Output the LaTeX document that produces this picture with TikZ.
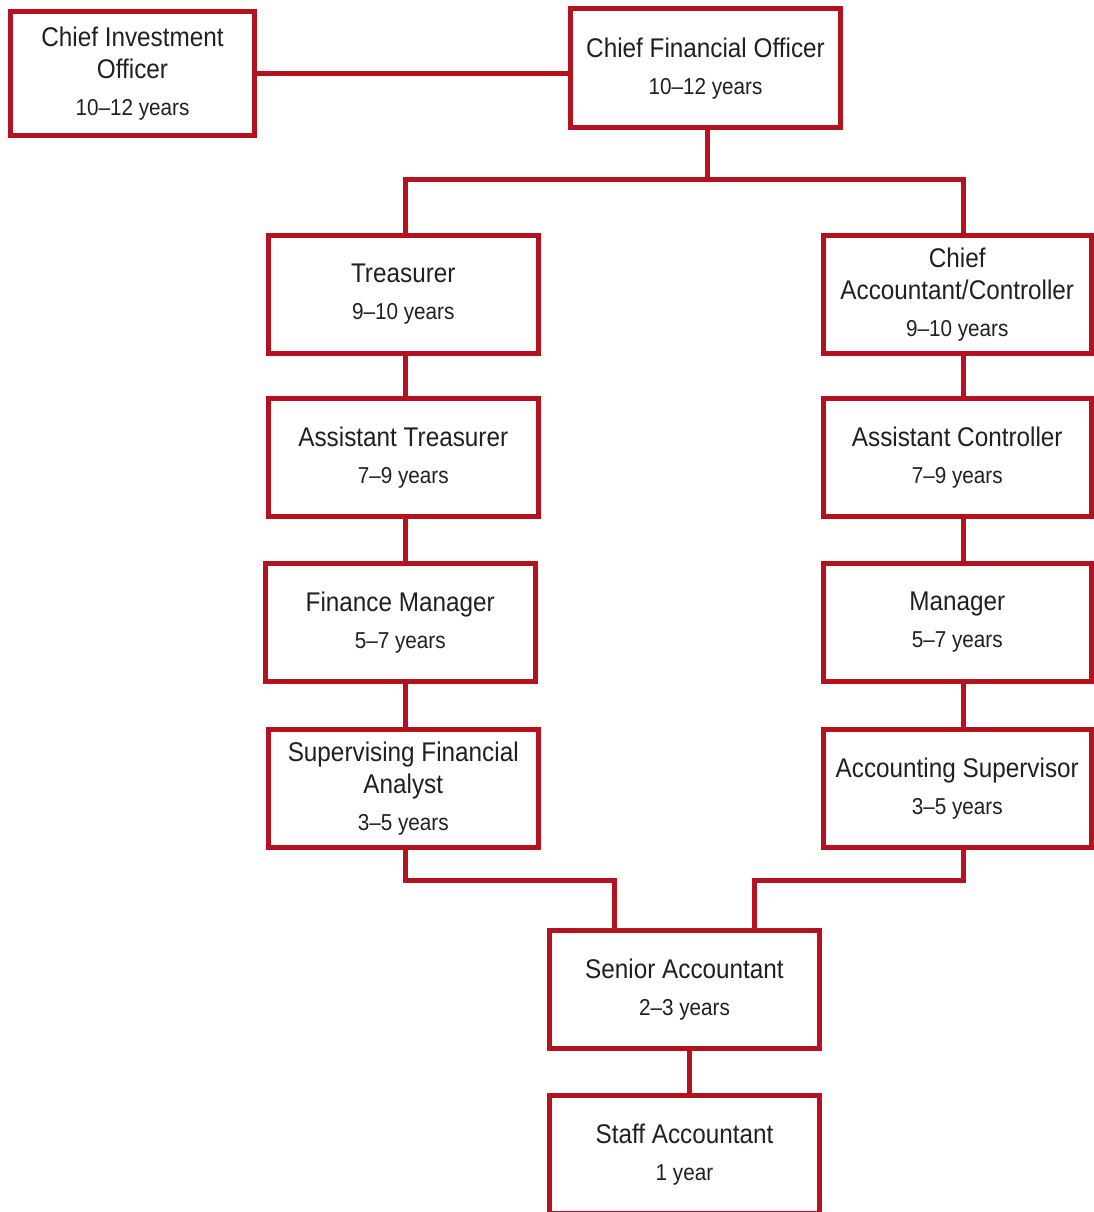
\documentclass[tikz,border=0pt]{standalone}
\usepackage{fontspec}
\setmainfont{Liberation Sans}[FakeStretch=0.9]
\definecolor{chartred}{RGB}{181,18,32}
\definecolor{ink}{RGB}{35,31,32}
% title on top, tenure below in a slightly smaller size
\newcommand\posttext[2]{#1\\[5pt]{\fontsize{23}{32}\selectfont #2}}

\begin{document}
\begin{tikzpicture}[x=1pt,y=-1pt,
  post/.style n args={2}{draw=chartred, line width=5pt, fill=white,
    inner sep=0pt, align=center, text=ink,
    font=\fontsize{27}{32}\selectfont,
    minimum width=#1, minimum height=#2},
  link/.style={draw=chartred, line width=5pt, line join=miter}]

\fill[white] (0,0) rectangle (1094,1212);
\useasboundingbox (0,0) rectangle (1094,1212);

% positions
\node[post={244}{124}]     (cio)    at (132.5,73.5)    {\posttext{Chief Investment\\Officer}{10--12 years}};
\node[post={270}{118.5}]   (cfo)    at (705.5,68.25)   {\posttext{Chief Financial Officer}{10--12 years}};
\node[post={270.5}{118.5}] (treas)  at (403.25,294.25) {\posttext{Treasurer}{9--10 years}};
\node[post={268.5}{118.5}] (ctrl)   at (957.25,294.25) {\posttext{Chief\\Accountant/Controller}{9--10 years}};
\node[post={270.5}{118.5}] (atreas) at (403.25,457.25) {\posttext{Assistant Treasurer}{7--9 years}};
\node[post={268.5}{118.5}] (actrl)  at (957.25,457.25) {\posttext{Assistant Controller}{7--9 years}};
\node[post={270.5}{118.5}] (finmgr) at (400.25,622.25) {\posttext{Finance Manager}{5--7 years}};
\node[post={268.5}{118.5}] (mgr)    at (957.25,622.25) {\posttext{Manager}{5--7 years}};
\node[post={270.5}{118.5}] (sfa)    at (403.25,788.25) {\posttext{Supervising Financial\\Analyst}{3--5 years}};
\node[post={268.5}{118.5}] (asup)   at (957.25,788.25) {\posttext{Accounting Supervisor}{3--5 years}};
\node[post={270}{118}]     (senior) at (684.5,989.5)   {\posttext{Senior Accountant}{2--3 years}};
\node[post={270}{118}]     (staff)  at (684.5,1154.5)  {\posttext{Staff Accountant}{1 year}};

% connector tracks
\coordinate (xl)  at (405,0);
\coordinate (xr)  at (963.5,0);
\coordinate (xm)  at (689.5,0);
\coordinate (bar) at (707,179.5);
\coordinate (jl)  at (614.5,880.5);
\coordinate (jr)  at (754.5,880.5);

\draw[link] (cio.east) -- (cio.east -| cfo.west);
\draw[link] (cfo.south -| bar) -- (bar);
\draw[link] (treas.north -| xl) |- (bar) -| (ctrl.north -| xr);

\draw[link] (treas.south -| xl)  -- (atreas.north -| xl);
\draw[link] (atreas.south -| xl) -- (finmgr.north -| xl);
\draw[link] (finmgr.south -| xl) -- (sfa.north -| xl);

\draw[link] (ctrl.south -| xr)  -- (actrl.north -| xr);
\draw[link] (actrl.south -| xr) -- (mgr.north -| xr);
\draw[link] (mgr.south -| xr)   -- (asup.north -| xr);

\draw[link] (sfa.south -| xl)  |- (jl) -- (senior.north -| jl);
\draw[link] (asup.south -| xr) |- (jr) -- (senior.north -| jr);
\draw[link] (senior.south -| xm) -- (staff.north -| xm);
\end{tikzpicture}
\end{document}
